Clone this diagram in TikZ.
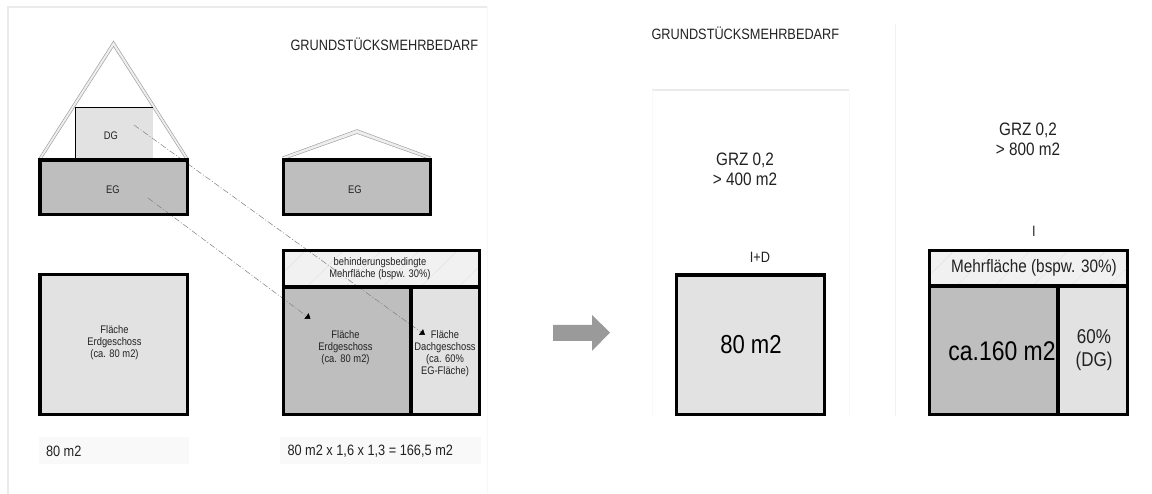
\documentclass[tikz,border=0pt]{standalone}
\usepackage{fontspec}
\setmainfont[FakeStretch=0.85]{Liberation Sans}
\usetikzlibrary{arrows.meta}
\definecolor{lightfill}{HTML}{E2E2E2}
\definecolor{midfill}{HTML}{BEBEBE}
\definecolor{stripfill}{HTML}{F1F1F1}
\definecolor{faintline}{HTML}{EBEBEB}
\definecolor{labelbg}{HTML}{F9F9F9}
\definecolor{roofline}{HTML}{9A9A9A}
\definecolor{roofband}{HTML}{EEEEEE}
\definecolor{arrowgrey}{HTML}{9A9A9A}
\definecolor{txt}{HTML}{222222}
\tikzset{
  heavy/.style={draw=black,line width=3.2pt,inner sep=0pt,outer sep=0pt,rectangle},
  labelband/.style={fill=labelbg,inner sep=0pt,outer sep=0pt,rectangle},
  lab/.style={inner sep=0pt,outer sep=0pt,text=txt,align=center},
  tiny/.style={lab,font=\fontsize{11}{12}\selectfont},
  mid/.style={lab,font=\fontsize{18}{20}\selectfont},
  big/.style={lab,text=black,font=\fontsize{27}{30}\selectfont},
  plain/.style={lab,font=\fontsize{15}{16}\selectfont},
  roof/.style={draw=roofline,line width=0.45pt,line join=miter},
  flow/.style={draw=black!50,line width=0.5pt,dash pattern=on 6pt off 2pt on 1pt off 2pt,
    -{Triangle[width=7pt,length=5pt,color=black,fill=black]}},
  faint/.style={draw=faintline,line width=1.2pt},
}
% name, x1, y1, x2, y2, style
\newcommand{\boxnode}[6]{%
  \node[#6,minimum width={(#4-#2)*1pt},minimum height={(#5-#3)*1pt}] (#1)
    at ({(#2+#4)/2},{(#3+#5)/2}) {};}
\newcommand{\restroke}[1]{\draw[black,line width=3.2pt] (#1.north west) rectangle (#1.south east);}
\begin{document}
\begin{tikzpicture}[x=1pt,y=-1pt]
\useasboundingbox (0,0) rectangle (1152,494);
\fill[white] (0,0) rectangle (1152,494);
% panel frames
\draw[faint] (8,494) -- (8,7) -- (487,7);
\draw[draw=faintline!40,line width=0.8pt] (487,7) -- (487,494);
\draw[faint] (652,90) -- (849,90);
\draw[draw=faintline!35,line width=0.8pt] (652,90) -- (652,416) (849,90) -- (849,416);
\draw[draw=faintline!70,line width=0.8pt] (895.5,24) -- (895.5,416);
% roofs
\fill[roofband] (39,158) -- (113.5,41) -- (188,158) -- (185,158) -- (113.5,46.5) -- (42,158) -- cycle;
\draw[roof] (39,158) -- (113.5,41) -- (188,158);
\draw[roof] (42,158) -- (113.5,46.5) -- (185,158);
\fill[roofband] (282,157) -- (357,129.5) -- (431,157) -- (426,158) -- (357,133.5) -- (288,158) -- cycle;
\draw[roof] (282,157) -- (357,129.5) -- (431,157);
\draw[roof] (288,158) -- (357,133.5) -- (426,158);
% DG
\fill[lightfill] (75.5,107.5) rectangle (153,158);
\draw[black,line width=0.8pt] (75.5,158) -- (75.5,107.5) -- (153,107.5);
\node[tiny] (dg) at (111,136) {DG};
% EG
\boxnode{egleft}{40}{160}{187.5}{214.5}{heavy,fill=midfill}
\node[tiny] (eglab) at (113,190) {EG};
\boxnode{egright}{283.5}{160}{430.5}{214.5}{heavy,fill=midfill}
\node[tiny] (eglabb) at (355,190) {EG};
% floor plan left
\boxnode{planleft}{40}{274.5}{187.5}{414.5}{heavy,fill=lightfill}
\node[tiny] (planleftlab) at (114.5,343) {Fläche\\Erdgeschoss\\(ca. 80 m2)};
% floor plan right
\boxnode{strip}{283.5}{250.5}{479.5}{287}{heavy,fill=stripfill}
\begin{scope}
\clip (285,252) rectangle (478,285.5);
\foreach \k in {0,38,...,230}{\draw[white!88!black,line width=0.4pt] (270+\k,285.5) -- (304+\k,252);}
\end{scope}
\boxnode{planmid}{283.5}{287}{411}{414.5}{heavy,fill=midfill}
\boxnode{planside}{411}{287}{479.5}{414.5}{heavy,fill=lightfill}
\node[tiny] (striplab) at (380,269) {behinderungsbedingte\\Mehrfläche (bspw. 30\%)};
\node[tiny] (planmidlab) at (345.5,348) {Fläche\\Erdgeschoss\\(ca. 80 m2)};
\node[tiny] (plansidelab) at (445,353.5) {Fläche\\Dachgeschoss\\(ca. 60\%\\EG-Fläche)};
% connectors
\coordinate (dgstart) at (134,125);
\coordinate (egstart) at (148,198);
\coordinate (egend) at (310.5,319);
\coordinate (dgend) at (425,335);
\draw[flow] (egstart) -- (egend);
\draw[flow] (dgstart) -- (dgend);
\restroke{egleft}
\restroke{strip}
\restroke{planmid}
% bottom labels
\boxnode{bandleft}{39}{437}{189}{464}{labelband}
\boxnode{bandright}{280}{437}{481}{464}{labelband}
\node[plain,anchor=west] (sumleft) at (46,451) {80 m2};
\node[plain,anchor=west] (sumright) at (287.5,451) {80 m2 x 1,6 x 1,3 = 166,5 m2};
% headings
\node[plain,anchor=west] (headleft) at (290.5,44.5) {GRUNDSTÜCKSMEHRBEDARF};
\node[plain,anchor=west] (headright) at (651.5,33) {GRUNDSTÜCKSMEHRBEDARF};
% block arrow
\fill[arrowgrey] (553,325) -- (592,325) -- (592,315) -- (610,332.5) -- (592,351) -- (592,341) -- (553,341) -- cycle;
% right panel texts
\node[mid] (grzleft) at (745,169) {GRZ 0,2\\> 400 m2};
\node[mid] (grzright) at (1028,139) {GRZ 0,2\\> 800 m2};
\node[plain] (idlab) at (760,257) {I+D};
\node[plain] (ilab) at (1034,231) {I};
% right boxes
\boxnode{boxeighty}{676.5}{275}{824.5}{414.5}{heavy,fill=lightfill}
\node[big,font=\fontsize{26}{30}\selectfont] (eightylab) at (751,345) {80 m2};
\boxnode{rstrip}{929.5}{250.5}{1127.5}{286}{heavy,fill=stripfill}
\begin{scope}
\clip (931,252) rectangle (1126,284.5);
\foreach \k in {0,38,...,230}{\draw[white!88!black,line width=0.4pt] (920+\k,284.5) -- (953+\k,252);}
\end{scope}
\boxnode{rmid}{929.5}{286}{1058}{414.5}{heavy,fill=midfill}
\boxnode{rside}{1058}{286}{1127.5}{414.5}{heavy,fill=lightfill}
\node[lab,font=\fontsize{18}{20}\selectfont] (rstriplab) at (1034,267.5) {Mehrfläche (bspw. 30\%)};
\node[big] (rmidlab) at (1002,351) {ca.160 m2};
\node[lab,font=\fontsize{20}{22.5}\selectfont] (rsidelab) at (1094,350) {60\%\\(DG)};
\end{tikzpicture}
\end{document}
